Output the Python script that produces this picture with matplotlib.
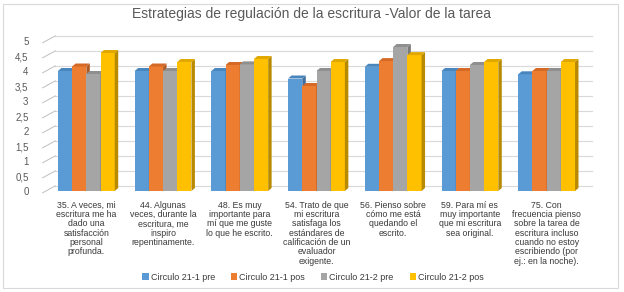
import matplotlib.pyplot as plt
import numpy as np
from matplotlib.patches import Polygon, Rectangle

plt.rcParams['font.family'] = ['Liberation Sans', 'DejaVu Sans']

categories = [
    "35. A veces, mi\nescritura me ha\ndado una\nsatisfacción\npersonal\nprofunda.",
    "44. Algunas\nveces, durante la\nescritura, me\ninspiro\nrepentinamente.",
    "48. Es muy\nimportante para\nmí que me guste\nlo que he escrito.",
    "54. Trato de que\nmi escritura\nsatisfaga los\nestándares de\ncalificación de un\nevaluador\nexigente.",
    "56. Pienso sobre\ncómo me está\nquedando el\nescrito.",
    "59. Para mí es\nmuy importante\nque mi escritura\nsea original.",
    "75. Con\nfrecuencia pienso\nsobre la tarea de\nescritura incluso\ncuando no estoy\nescribiendo (por\nej.: en la noche).",
]
series_names = ["Circulo 21-1 pre", "Circulo 21-1 pos", "Circulo 21-2 pre", "Circulo 21-2 pos"]
pre_21_1 = [4.0, 4.0, 4.0, 3.75, 4.14, 4.0, 3.89]
pos_21_1 = [4.15, 4.15, 4.2, 3.5, 4.33, 4.0, 4.0]
pre_21_2 = [3.9, 4.0, 4.22, 4.0, 4.8, 4.2, 4.0]
pos_21_2 = [4.6, 4.3, 4.4, 4.3, 4.53, 4.3, 4.3]
yticks = [0, 0.5, 1, 1.5, 2, 2.5, 3, 3.5, 4, 4.5, 5]
ytick_labels = ["0", "0,5", "1", "1,5", "2", "2,5", "3", "3,5", "4", "4,5", "5"]

values = [pre_21_1, pos_21_1, pre_21_2, pos_21_2]
colors = ["#5B9BD5", "#ED7D31", "#A5A5A5", "#FFC000"]
side_colors = ["#3F6F9E", "#B05A20", "#7A7A7A", "#B88A00"]
top_colors = ["#4A86BE", "#D46A25", "#8F8F8F", "#E0A800"]

fig = plt.figure(figsize=(6.24, 2.92), dpi=100)
fig.patches.append(Rectangle((3 / 624, 4 / 292), 615 / 624, 284 / 292,
                             transform=fig.transFigure, fill=False,
                             edgecolor="#D9D9D9", linewidth=0.8))
ax = fig.add_axes([48 / 624, 101 / 292, 537 / 624, 150 / 292])
ax.set_xlim(-0.5, 6.5)
ax.set_ylim(0, 5)

x = np.arange(len(categories))
w = 0.185
# perspective offsets of the back wall and of the bar depth (data units)
wall_dx, wall_dy = 0.095, 0.17
bar_dx, bar_dy = 0.045, 0.1

# back wall gridlines and slanted ticks
for v in yticks:
    ax.plot([-0.5 + wall_dx, 6.5 + wall_dx], [v + wall_dy, v + wall_dy],
            color="#D9D9D9", lw=0.8, clip_on=False, zorder=0)
    ax.plot([-0.57, -0.5 + wall_dx], [v - 0.06, v + wall_dy],
            color="#BFBFBF", lw=0.7, clip_on=False, zorder=0)

for i, (vals, c, sc, tc) in enumerate(zip(values, colors, side_colors, top_colors)):
    xs = x + (i - 1.5) * w
    ax.bar(xs, vals, width=w, color=c, label=series_names[i], zorder=2 + i)
    for xc, v in zip(xs, vals):
        r = xc + w / 2
        l = xc - w / 2
        ax.add_patch(Polygon([[r, 0], [r + bar_dx, bar_dy], [r + bar_dx, v + bar_dy], [r, v]],
                             closed=True, facecolor=sc, edgecolor="none", zorder=2 + i, clip_on=False))
        ax.add_patch(Polygon([[l, v], [l + bar_dx, v + bar_dy], [r + bar_dx, v + bar_dy], [r, v]],
                             closed=True, facecolor=tc, edgecolor="none", zorder=2 + i, clip_on=False))

ax.set_yticks(yticks)
ax.set_yticklabels(ytick_labels, fontsize=7, color="#595959")
ax.tick_params(axis="y", length=0, pad=14)
ax.set_xticks(x)
ax.set_xticklabels(categories, fontsize=6.3, color="#3A3A3A", linespacing=1.05, va="top")
ax.tick_params(axis="x", length=0, pad=7)
for s in ax.spines.values():
    s.set_visible(False)

fig.text(0.5, 0.952, "Estrategias de regulación de la escritura -Valor de la tarea",
         ha="center", va="center", fontsize=10, color="#595959")

ax.legend(loc="center", bbox_to_anchor=(313 / 624, 15 / 292), bbox_transform=fig.transFigure,
          ncol=4, frameon=False, fontsize=6.5, handlelength=0.7, handleheight=0.7,
          handletextpad=0.2, columnspacing=1.8, labelcolor="#3A3A3A")

fig.savefig("out.png", dpi=100)
